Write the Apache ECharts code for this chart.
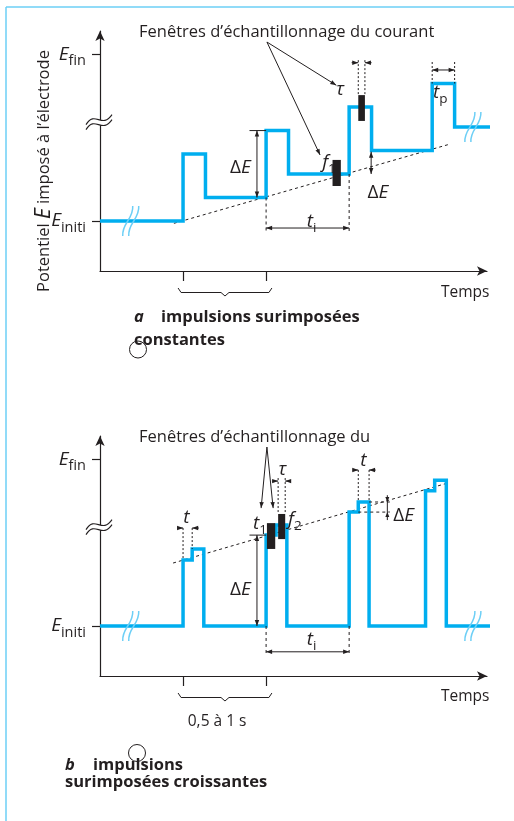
<!DOCTYPE html>
<html>
<head>
<meta charset="utf-8">
<script src="https://cdn.jsdelivr.net/npm/echarts@6/dist/echarts.min.js"></script>
<style>
html, body { margin: 0; padding: 0; background: #fff; }
#main { width: 514px; height: 821px; }
</style>
</head>
<body>
<div id="main"></div>
<script>
// (a) constant pulses superimposed on a staircase: corner points of the waveform
const waveA_t = [0, 10, 10, 12.7, 12.7, 20, 20, 22.7, 22.7, 30, 30, 32.7, 32.7, 40, 40, 42.7, 42.7, 47.5];
const waveA_E = [0, 0, 2.85, 2.85, 1, 1, 3.85, 3.85, 2, 2, 4.85, 4.85, 3, 3, 5.85, 5.85, 4, 4];
const rampA_t = [8.9, 42.2];
const rampA_E = [-0.1, 3.28];
// current sampling windows: [t start, t end, E low, E high]
const windowsA = [[28.0, 29.0, 1.49, 2.6], [31.1, 31.9, 4.26, 5.36]];

// (b) increasing pulses returning to the initial potential
const waveB_t = [0, 10, 10, 11.1, 11.1, 12.5, 12.5, 20, 20, 21.2, 21.2, 22.5, 22.5, 30, 30, 31.1, 31.1, 32.4, 32.4, 39.2, 39.2, 40.3, 40.3, 41.7, 41.7, 47.5];
const waveB_E = [0, 0, 2.81, 2.81, 3.28, 3.28, 0, 0, 3.87, 3.87, 4.3, 4.3, 0, 0, 4.85, 4.85, 5.28, 5.28, 0, 0, 5.76, 5.76, 6.21, 6.21, 0, 0];
const rampB_t = [8.8, 41.9];
const rampB_E = [2.68, 6.09];
const windowsB = [[20.1, 21.1, 3.28, 4.38], [21.45, 22.3, 3.7, 4.77]];

// named potentials on the vertical axis and the period marks on the time axis
const E_INIT = 0;
const E_FIN = 7.1;
const periodTicks = [10, 20];

const INK = '#231f20';
const BLUE = '#00aeef';
const PALE = '#6dcff6';
const FONT = '"Open Sans", sans-serif';

const chart = echarts.init(document.getElementById('main'), null, { renderer: 'canvas' });

const pairs = (t, e) => t.map((x, k) => [x, e[k]]);
const axisLine = {
  show: true, onZero: false, symbol: ['none', 'arrow'], symbolSize: [7, 10],
  lineStyle: { color: INK, width: 1.2 }
};

const grids = [
  { left: 100, top: 31, width: 387, height: 240 },
  { left: 100, top: 436, width: 387, height: 240 }
];

const xAxes = grids.map((_, i) => ({
  type: 'value', gridIndex: i, min: 0, max: 46.6,
  axisLine: axisLine,
  axisTick: { show: true, customValues: periodTicks, length: 10, lineStyle: { color: INK, width: 1.2 } },
  axisLabel: { show: false },
  splitLine: { show: false }
}));

const yAxes = grids.map((_, i) => ({
  type: 'value', gridIndex: i, min: -2.13, max: 8.09,
  axisLine: axisLine,
  axisTick: { show: true, customValues: [E_INIT, E_FIN], length: 8, lineStyle: { color: INK, width: 1.2 } },
  axisLabel: {
    show: true, customValues: [E_INIT, E_FIN], margin: 14,
    formatter: v => Math.abs(v - E_FIN) < 1e-6 ? '{e|E}{s|fin}' : '{e|E}{s|initi}',
    rich: {
      e: { fontFamily: FONT, fontStyle: 'italic', fontSize: 19, color: INK },
      s: { fontFamily: FONT, fontSize: 14.5, color: INK, padding: [14, 0, 0, 0] }
    }
  },
  splitLine: { show: false }
}));

function waveSeries(i, t, e) {
  return {
    type: 'line', xAxisIndex: i, yAxisIndex: i, data: pairs(t, e),
    symbol: 'none', clip: false, z: 3, silent: true,
    lineStyle: { color: BLUE, width: 3.5, join: 'miter', cap: 'butt' }
  };
}
function rampSeries(i, t, e) {
  return {
    type: 'line', xAxisIndex: i, yAxisIndex: i, data: pairs(t, e),
    symbol: 'none', clip: false, z: 2, silent: true,
    lineStyle: { color: INK, width: 1, type: [3, 3] }
  };
}
function windowSeries(i, w) {
  return {
    type: 'custom', xAxisIndex: i, yAxisIndex: i, data: w, clip: false, z: 5, silent: true,
    encode: { x: [0, 1], y: [2, 3] },
    renderItem: (params, api) => {
      const a = api.coord([api.value(0), api.value(3)]);
      const b = api.coord([api.value(1), api.value(2)]);
      return { type: 'rect', shape: { x: a[0], y: a[1], width: b[0] - a[0], height: b[1] - a[1] }, style: { fill: INK } };
    }
  };
}

chart.setOption({
  animation: false,
  backgroundColor: '#fff',
  grid: grids,
  xAxis: xAxes,
  yAxis: yAxes,
  series: [
    waveSeries(0, waveA_t, waveA_E), rampSeries(0, rampA_t, rampA_E), windowSeries(0, windowsA),
    waveSeries(1, waveB_t, waveB_E), rampSeries(1, rampB_t, rampB_E), windowSeries(1, windowsB)
  ]
});

// ---- annotations placed through the axes' scales ----
const g = [];
const P = (i, x, y) => chart.convertToPixel({ xAxisIndex: i, yAxisIndex: i }, [x, y]);

function seg(a, b, o = {}) {
  g.push({ type: 'line', z: 20, silent: true,
    shape: { x1: a[0], y1: a[1], x2: b[0], y2: b[1] },
    style: { stroke: o.color || INK, lineWidth: o.w || 1, lineDash: o.dash || null } });
}
function head(tip, from, len = 6, half = 2.2) {
  const dx = tip[0] - from[0], dy = tip[1] - from[1], L = Math.hypot(dx, dy);
  const ux = dx / L, uy = dy / L, bx = tip[0] - ux * len, by = tip[1] - uy * len;
  g.push({ type: 'polygon', z: 21, silent: true,
    shape: { points: [[tip[0], tip[1]], [bx - uy * half, by + ux * half], [bx + uy * half, by - ux * half]] },
    style: { fill: INK } });
}
function arrow(a, b, both) { seg(a, b); head(b, a); if (both) head(a, b); }
function dotted(a, b) { seg(a, b, { dash: [2, 2] }); }
function dashed(a, b) { seg(a, b, { dash: [3, 3] }); }

const rich = {
  it: { fontFamily: FONT, fontStyle: 'italic', fontSize: 19, fill: INK, color: INK },
  up: { fontFamily: FONT, fontSize: 19, fill: INK, color: INK },
  sub: { fontFamily: FONT, fontSize: 13.5, fill: INK, color: INK, padding: [12, 0, 0, 0] },
  n: { fontFamily: FONT, fontSize: 16.5, fill: INK, color: INK },
  big: { fontFamily: FONT, fontStyle: 'italic', fontSize: 21, fill: INK, color: INK },
  b: { fontFamily: FONT, fontWeight: 'bold', fontSize: 16.5, fill: INK, color: INK },
  bi: { fontFamily: FONT, fontWeight: 'bold', fontStyle: 'italic', fontSize: 16.5, fill: INK, color: INK }
};
function label(p, str, align = 'left', size = 14, extra = {}) {
  g.push(Object.assign({ type: 'text', z: 22, silent: true, x: p[0], y: p[1],
    style: { text: str, x: 0, y: 0, rich: rich, fill: INK,
      font: size + 'px ' + FONT,
      align: align, textAlign: align, verticalAlign: 'middle', textVerticalAlign: 'middle' } }, extra));
}
function blueBreak(i, x, y) {
  const c = P(i, x, y);
  [-3, 3].forEach(k => {
    g.push({ type: 'bezierCurve', z: 20, silent: true,
      shape: { x1: c[0] + k - 5, y1: c[1] + 15, x2: c[0] + k + 5, y2: c[1] - 15,
        cpx1: c[0] + k - 6, cpy1: c[1] + 2, cpx2: c[0] + k + 6, cpy2: c[1] - 2 },
      style: { stroke: PALE, lineWidth: 1.5, fill: null } });
  });
}
function axisBreak(i, y) {
  const c = P(i, 0, y);
  const curve = (dy, col, w) => g.push({ type: 'bezierCurve', z: 20, silent: true,
    shape: { x1: c[0] - 14, y1: c[1] + 5 + dy, x2: c[0] + 12, y2: c[1] - 5 + dy,
      cpx1: c[0] - 5, cpy1: c[1] - 10 + dy, cpx2: c[0] + 2, cpy2: c[1] + 10 + dy },
    style: { stroke: col, lineWidth: w, fill: null } });
  curve(0, '#fff', 5);
  curve(-2.5, INK, 1.1);
  curve(2.5, INK, 1.1);
}
function brace(i, x0, x1) {
  const a = P(i, x0, 0), b = P(i, x1, 0), ya = P(i, 0, -2.13)[1], xm = (a[0] + b[0]) / 2;
  g.push({ type: 'polyline', z: 20, silent: true,
    shape: { points: [[a[0], ya + 17], [a[0] + 3, ya + 21.5], [xm - 4, ya + 21.5], [xm, ya + 25],
      [xm + 4, ya + 21.5], [b[0] - 3, ya + 21.5], [b[0], ya + 17]] },
    style: { stroke: INK, lineWidth: 1, fill: null } });
}

// ---------- chart (a) ----------
label(P(0, 4.7, 8.04), 'Fenêtres d\u2019échantillonnage du courant', 'left', 16.5);
arrow(P(0, 20.1, 7.62), P(0, 26.5, 2.81));
arrow(P(0, 20.1, 7.62), P(0, 28.45, 5.78));
label(P(0, 28.9, 5.6), '{it|\u03c4}', 'center');
// sampling window width
dotted(P(0, windowsA[1][0], 6.85), P(0, windowsA[1][0], windowsA[1][3]));
dotted(P(0, windowsA[1][1], 6.85), P(0, windowsA[1][1], windowsA[1][3]));
arrow(P(0, 30.3, 6.74), P(0, windowsA[1][0], 6.74));
arrow(P(0, 32.7, 6.74), P(0, windowsA[1][1], 6.74));
// pulse duration tp
dotted(P(0, 40, 6.77), P(0, 40, 5.85));
dotted(P(0, 42.7, 6.77), P(0, 42.7, 5.85));
arrow(P(0, 40, 6.43), P(0, 42.7, 6.43), true);
label(P(0, 40.1, 5.45), '{it|t}{sub|p}');
// pulse amplitude
arrow(P(0, 18.9, 1), P(0, 18.9, 3.85), true);
seg(P(0, 18.0, 3.85), P(0, 20, 3.85));
label(P(0, 16.9, 2.26), '{up|\u0394}{it|E}', 'center');
arrow(P(0, 32.65, 2.0), P(0, 32.65, 2.95), true);
label(P(0, 32.2, 1.23), '{up|\u0394}{it|E}', 'left');
// interval ti
dashed(P(0, 20, 1), P(0, 20, -0.47));
dashed(P(0, 30, 2), P(0, 30, -0.47));
arrow(P(0, 20, -0.3), P(0, 30, -0.3), true);
label(P(0, 24.9, -0.04), '{it|t}{sub|i}');
label(P(0, 26.75, 2.47), '{it|f}{sub|1}');
label(P(0, 46.9, -3.06), 'Temps', 'right', 15.5);
brace(0, 9.4, 20.7);
blueBreak(0, 3.7, 0);
blueBreak(0, 44.9, 4);
axisBreak(0, 4.21);
label([44, 171], '{n|Potentiel }{big|E}{n| imposé à l\u2019électrode}', 'center', 16.5, { rotation: Math.PI / 2 });

// ---------- chart (b) ----------
label(P(1, 4.7, 8.04), 'Fenêtres d\u2019échantillonnage du', 'left', 16.5);
arrow(P(1, 20.1, 7.62), P(1, 19.4, 5.02));
arrow(P(1, 20.1, 7.62), P(1, 20.85, 5.02));
dotted(P(1, windowsB[1][0], 6.3), P(1, windowsB[1][0], windowsB[1][3]));
dotted(P(1, windowsB[1][1], 6.3), P(1, windowsB[1][1], windowsB[1][3]));
arrow(P(1, 20.7, 6.17), P(1, windowsB[1][0], 6.17));
arrow(P(1, 23.0, 6.17), P(1, windowsB[1][1], 6.17));
label(P(1, 21.95, 6.68), '{it|\u03c4}', 'center');
label(P(1, 18.43, 4.34), '{it|t}{sub|1}');
label(P(1, 22.65, 4.51), '{it|f}{sub|2}');
arrow(P(1, 18.9, 0), P(1, 18.9, 3.87), true);
seg(P(1, 18.0, 3.87), P(1, 20, 3.87));
label(P(1, 16.9, 1.53), '{up|\u0394}{it|E}', 'center');
dashed(P(1, 20, 0), P(1, 20, -1.28));
dashed(P(1, 30, 0), P(1, 30, -1.28));
arrow(P(1, 20, -1.1), P(1, 30, -1.1), true);
label(P(1, 24.9, -0.6), '{it|t}{sub|i}');
// short step duration t
dotted(P(1, 10, 4.17), P(1, 10, 2.81));
dotted(P(1, 11.1, 4.17), P(1, 11.1, 3.28));
arrow(P(1, 9.3, 4.17), P(1, 10, 4.17));
arrow(P(1, 11.9, 4.17), P(1, 11.1, 4.17));
label(P(1, 10.4, 4.6), '{it|t}', 'center');
dotted(P(1, 31.1, 6.64), P(1, 31.1, 5.28));
dotted(P(1, 32.4, 6.64), P(1, 32.4, 5.28));
arrow(P(1, 30.4, 6.64), P(1, 31.1, 6.64));
arrow(P(1, 33.2, 6.64), P(1, 32.4, 6.64));
label(P(1, 31.7, 7.06), '{it|t}', 'center');
// step height
dashed(P(1, 32.4, 5.28), P(1, 34.9, 5.28));
dashed(P(1, 31.1, 4.85), P(1, 34.9, 4.85));
seg(P(1, 34.6, 5.57), P(1, 34.6, 4.51));
head(P(1, 34.6, 5.28), P(1, 34.6, 5.57), 5, 2);
head(P(1, 34.6, 4.85), P(1, 34.6, 4.51), 5, 2);
label(P(1, 35.3, 4.72), '{up|\u0394}{it|E}', 'left');
label(P(1, 14.1, -4.09), '0,5 à 1 s', 'center', 15.5);
label(P(1, 46.9, -3.02), 'Temps', 'right', 15.5);
brace(1, 9.4, 20.7);
blueBreak(1, 3.7, 0);
blueBreak(1, 44.9, 0);
axisBreak(1, 4.21);

// ---------- captions and frame ----------
label([134, 317], '{bi|a}', 'left');
label([161, 317], '{b|impulsions surimposées}', 'left');
label([134, 340], '{b|constantes}', 'left');
label([65, 765], '{bi|b}', 'left');
label([93, 765], '{b|impulsions}', 'left');
label([65, 782], '{b|surimposées croissantes}', 'left');
g.push({ type: 'circle', z: 23, silent: true, shape: { cx: 138, cy: 349.5, r: 8.5 }, style: { stroke: INK, lineWidth: 1, fill: null } });
g.push({ type: 'circle', z: 23, silent: true, shape: { cx: 137, cy: 753, r: 8.5 }, style: { stroke: INK, lineWidth: 1, fill: null } });
seg([6, 7], [514, 7], { color: PALE, w: 1.5 });
seg([6, 7], [6, 821], { color: PALE, w: 1.5 });

chart.setOption({ graphic: { elements: g } });
</script>
</body>
</html>
